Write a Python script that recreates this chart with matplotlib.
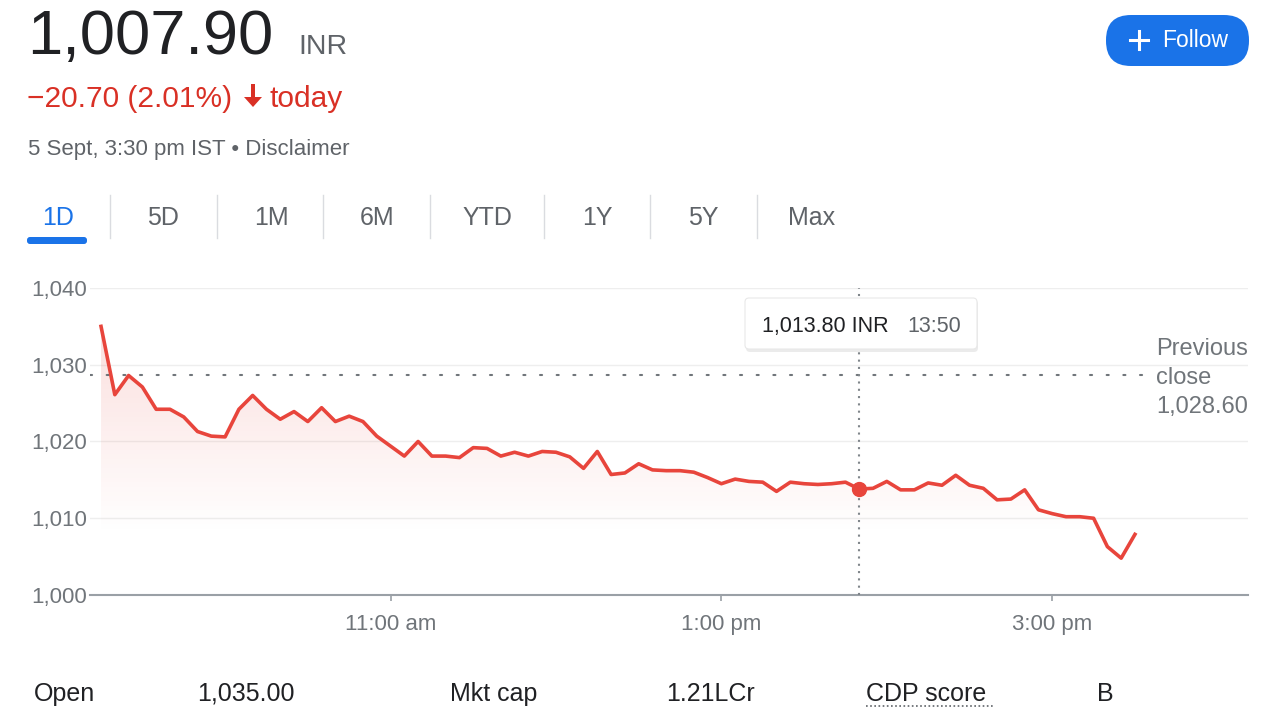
import numpy as np
import matplotlib
matplotlib.use("Agg")
import matplotlib.pyplot as plt
from matplotlib.patches import FancyBboxPatch, FancyArrow

plt.rcParams['font.family'] = ['Liberation Sans', 'DejaVu Sans']

# intraday prices, 5-minute steps from 9:15 to 15:30 (minutes after midnight)
times = np.arange(9 * 60 + 15, 15 * 60 + 31, 5)
prices = [1035.0, 1026.1, 1028.6, 1027.1, 1024.2, 1024.2, 1023.2, 1021.3, 1020.7, 1020.6,
          1024.2, 1026.0, 1024.2, 1022.9, 1023.9, 1022.6, 1024.4, 1022.6, 1023.3, 1022.6,
          1020.7, 1019.4, 1018.1, 1020.0, 1018.1, 1018.1, 1017.9, 1019.2, 1019.1, 1018.1,
          1018.6, 1018.1, 1018.7, 1018.6, 1018.0, 1016.5, 1018.7, 1015.7, 1015.9, 1017.1,
          1016.3, 1016.2, 1016.2, 1016.0, 1015.3, 1014.5, 1015.1, 1014.8, 1014.7, 1013.5,
          1014.7, 1014.5, 1014.4, 1014.5, 1014.7, 1013.8, 1013.9, 1014.8, 1013.7, 1013.7,
          1014.6, 1014.3, 1015.6, 1014.3, 1013.9, 1012.4, 1012.5, 1013.7, 1011.1, 1010.6,
          1010.2, 1010.2, 1010.0, 1006.3, 1004.8, 1007.9]
prev_close = 1028.60
sel_time = 13 * 60 + 50
sel_price = 1013.80

yticks = [1000, 1010, 1020, 1030, 1040]
ytick_labels = ['1,000', '1,010', '1,020', '1,030', '1,040']
xticks = [11 * 60, 13 * 60, 15 * 60]
xtick_labels = ['11:00 am', '1:00 pm', '3:00 pm']

tabs = ['1D', '5D', '1M', '6M', 'YTD', '1Y', '5Y', 'Max']
stats = [('Open', '1,035.00'), ('Mkt cap', '1.21LCr'), ('CDP score', 'B')]

RED = '#e8453c'
GREY = '#70757a'
BLUE = '#1a73e8'

fig = plt.figure(figsize=(12.8, 7.2), dpi=100)
W, H = 1280, 720

# ---- main price chart
ax = fig.add_axes([90 / W, 1 - 595 / H, (1248 - 90) / W, (595 - 288) / H])
ax.set_xlim(551, 971)
ax.set_ylim(1000, 1040)

ax.plot(times, prices, color=RED, lw=2.6, solid_joinstyle='round', zorder=4)

# gradient fill under the line
poly = ax.fill_between(times, prices, 1000, facecolor='none', edgecolor='none')
grad = np.linspace(0, 1, 256).reshape(-1, 1)
rgba = np.zeros((256, 1, 4))
rgba[..., 0], rgba[..., 1], rgba[..., 2] = 0.91, 0.27, 0.24
rgba[..., 3] = 0.18 * grad
im = ax.imshow(rgba, extent=(times[0], times[-1], 1008, 1036), origin='lower',
               aspect='auto', zorder=2, interpolation='bilinear')
im.set_clip_path(poly.get_paths()[0], transform=ax.transData)

ax.axhline(prev_close, xmax=0.914, color=GREY, lw=1.5, ls=(0, (1, 7)),
           dash_capstyle='round', zorder=3)
ax.axvline(sel_time, color='#80868b', lw=1.5, ls=(0, (1, 2.5)), zorder=3)
ax.plot(sel_time, sel_price, 'o', color=RED, ms=10, zorder=5)

ax.set_yticks(yticks)
ax.set_yticklabels(ytick_labels)
ax.set_xticks(xticks)
ax.set_xticklabels(xtick_labels)
ax.tick_params(axis='y', length=0, pad=2, labelsize=16, labelcolor=GREY)
ax.tick_params(axis='x', length=4.5, width=1.2, color='#9aa0a6', pad=9,
               labelsize=16, labelcolor=GREY)
ax.grid(axis='y', color='#eeeeee', lw=1)
ax.set_axisbelow(True)
for s in ['top', 'left', 'right']:
    ax.spines[s].set_visible(False)
ax.spines['bottom'].set_color('#9aa0a6')
ax.spines['bottom'].set_linewidth(1.5)

# ---- overlay in pixel coordinates for the page elements
ov = fig.add_axes([0, 0, 1, 1])
ov.set_xlim(0, W)
ov.set_ylim(H, 0)
ov.axis('off')
ov.patch.set_alpha(0)

ov.text(27, 54, '1,007.90', fontsize=45.5, color='#202124', va='baseline')
ov.text(298, 54, 'INR', fontsize=20.5, color='#5f6368', va='baseline')
ov.text(27, 107, '\u221220.70 (2.01%)', fontsize=21.5, color='#d93025', va='baseline')
ov.add_patch(FancyArrow(253, 84, 0, 23, width=4, head_width=18, head_length=10,
                        length_includes_head=True, color='#d93025', lw=0))
ov.text(270, 107, 'today', fontsize=21.5, color='#d93025', va='baseline')
ov.text(28, 155, '5 Sept, 3:30 pm IST \u2022 Disclaimer', fontsize=16,
        color='#5f6368', va='baseline')

# follow button
ov.add_patch(FancyBboxPatch((1106, 15), 143, 51, boxstyle='round,pad=0,rounding_size=25',
                            fc=BLUE, ec='none'))
ov.plot([1130, 1148], [40, 40], color='white', lw=2.2)
ov.plot([1139, 1139], [31, 49], color='white', lw=2.2)
ov.text(1162, 47, 'Follow', fontsize=16.5, color='white', va='baseline')

# range tabs
tab_x = [58, 163, 271, 377, 487, 597, 703, 812]
sep_x = [110, 217, 323, 430, 544, 650, 757]
for name, x in zip(tabs, tab_x):
    ov.text(x, 225, name, fontsize=18, ha='center', va='baseline',
            color=BLUE if name == '1D' else '#5f6368')
for x in sep_x:
    ov.plot([x, x], [195, 238], color='#dadce0', lw=1)
ov.add_patch(FancyBboxPatch((27, 237), 60, 7, boxstyle='round,pad=0,rounding_size=3',
                            fc=BLUE, ec='none'))

# tooltip
ov.add_patch(FancyBboxPatch((746, 300), 232, 52, boxstyle='round,pad=0,rounding_size=4',
                            fc='#000000', ec='none', alpha=0.08))
ov.add_patch(FancyBboxPatch((745, 298), 232, 51, boxstyle='round,pad=0,rounding_size=4',
                            fc='white', ec='#e8e8e8', lw=0.8))
ov.text(762, 332, '1,013.80 INR', fontsize=15.5, color='#202124', va='baseline')
ov.text(907, 332, '13:50', fontsize=15.5, color='#5f6368', va='baseline')

# previous close label
for txt, y in zip(['Previous', 'close', '1,028.60'], [355, 384, 413]):
    ov.text(1156, y, txt, fontsize=17, color=GREY, va='baseline')

# stats row
stat_x = [(34, 197), (450, 666), (866, 1097)]
for (lab, val), (x1, x2) in zip(stats, stat_x):
    ov.text(x1, 701, lab, fontsize=18, color='#202124', va='baseline')
    ov.text(x2, 701, val, fontsize=18, color='#202124', va='baseline')
ov.plot([866, 993], [706, 706], color='#5f6368', lw=1.2, ls=(0, (1, 1.5)))

fig.savefig('out.png', dpi=100)
